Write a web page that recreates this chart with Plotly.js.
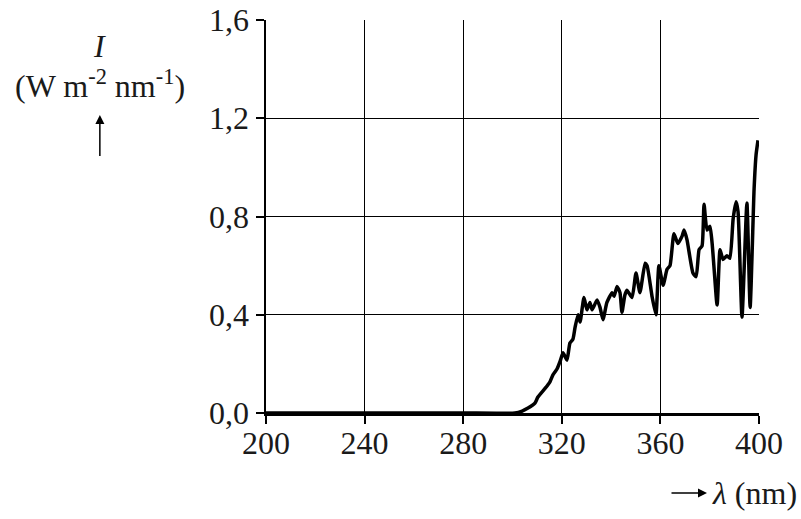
<!DOCTYPE html>
<html>
<head>
<meta charset="utf-8">
<script src="https://cdn.plot.ly/plotly-3.0.1.min.js"></script>
<style>html,body{margin:0;padding:0;background:#fff;}#chart{width:801px;height:519px;}</style>
</head>
<body>
<div id="chart"></div>
<script>
// Wavelength (nm) and spectral irradiance I (W m^-2 nm^-1)
const wavelength = [200, 240, 280, 301.0, 303.9, 306.3, 309.1, 310.3, 313.2, 315.2, 316.4, 318.1, 319.3, 320.5, 322.1, 323.3, 324.5, 325.4, 326.6, 327.4, 329.0, 330.2, 331.4, 332.3, 334.3, 335.5, 336.7, 338.3, 340.4, 341.2, 342.4, 343.6, 344.4, 345.6, 346.4, 348.5, 350.1, 351.7, 353.8, 354.6, 356.6, 358.2, 359.4, 361.1, 362.7, 363.9, 365.5, 367.1, 368.8, 369.6, 370.8, 373.2, 374.5, 375.7, 376.9, 377.7, 378.9, 380.1, 383.0, 384.2, 385.4, 387.0, 388.2, 389.5, 390.7, 391.5, 393.1, 395.1, 396.4, 398.0, 398.8, 399.6];
const irradiance = [0, 0, 0, 0, 0.008, 0.02, 0.04, 0.065, 0.10, 0.127, 0.155, 0.18, 0.21, 0.245, 0.215, 0.285, 0.30, 0.35, 0.40, 0.37, 0.47, 0.42, 0.45, 0.42, 0.46, 0.43, 0.38, 0.45, 0.49, 0.475, 0.515, 0.49, 0.41, 0.48, 0.50, 0.47, 0.57, 0.49, 0.61, 0.60, 0.475, 0.40, 0.60, 0.52, 0.585, 0.60, 0.73, 0.69, 0.72, 0.745, 0.705, 0.57, 0.555, 0.665, 0.68, 0.85, 0.745, 0.76, 0.44, 0.665, 0.625, 0.64, 0.63, 0.79, 0.86, 0.82, 0.39, 0.855, 0.43, 0.91, 1.05, 1.11];
const xTicks = [200, 240, 280, 320, 360, 400];
const yTicks = [0, 0.4, 0.8, 1.2, 1.6];

const FONT = 'Liberation Serif, Times New Roman, serif';
const FS = 32;
const TXT = '#1a1a1a';

const trace = {
  x: wavelength, y: irradiance, type: 'scatter', mode: 'lines',
  line: {color: '#000', width: 3.5, shape: 'spline', smoothing: 0.5},
  hoverinfo: 'skip'
};

const layout = {
  width: 801, height: 519,
  margin: {l: 266, r: 42, t: 20, b: 106},
  paper_bgcolor: '#fff', plot_bgcolor: '#fff',
  showlegend: false,
  separators: ',.',
  font: {family: FONT, color: TXT, size: FS},
  xaxis: {
    range: [200, 400], tickvals: xTicks, ticktext: xTicks.map(String),
    showgrid: true, gridcolor: '#000', gridwidth: 1,
    showline: true, linecolor: '#000', linewidth: 2.5,
    ticks: 'outside', ticklen: 8, tickwidth: 2, tickcolor: '#000',
    ticklabelstandoff: -8,
    zeroline: false, fixedrange: true,
    tickfont: {family: FONT, size: FS, color: TXT}
  },
  yaxis: {
    range: [0, 1.6], tickvals: yTicks, tickformat: '.1f',
    showgrid: true, gridcolor: '#000', gridwidth: 1,
    showline: true, linecolor: '#000', linewidth: 2.5,
    ticks: 'outside', ticklen: 8, tickwidth: 2, tickcolor: '#000',
    zeroline: false, fixedrange: true,
    tickfont: {family: FONT, size: FS, color: TXT}
  },
  annotations: [
    {xref: 'paper', yref: 'paper', x: -0.337, y: 0.935, xanchor: 'center', yanchor: 'middle',
     text: '<i>I</i>', showarrow: false, font: {family: FONT, size: FS, color: TXT}},
    {xref: 'paper', yref: 'paper', x: -0.337, y: 0.838, xanchor: 'center', yanchor: 'middle',
     text: '(W m<sup>-2</sup> nm<sup>-1</sup>)', showarrow: false, font: {family: FONT, size: FS, color: TXT}},
    {xref: 'paper', yref: 'paper', x: -0.337, y: 0.758, ax: 0, ay: 43, text: ' ', font: {size: 1},
     showarrow: true, arrowhead: 2, arrowsize: 1.2, arrowwidth: 1.5, arrowcolor: '#000', standoff: 0},
    {xref: 'paper', yref: 'paper', x: 0.8945, y: -0.2036, ax: -37, ay: 0, text: ' ', font: {size: 1},
     showarrow: true, arrowhead: 2, arrowsize: 1.2, arrowwidth: 1.5, arrowcolor: '#000', standoff: 0},
    {xref: 'paper', yref: 'paper', x: 1.082, y: -0.2036, xanchor: 'right', yanchor: 'middle',
     text: '<i>λ</i> (nm)', showarrow: false, font: {family: FONT, size: FS, color: TXT}}
  ]
};

Plotly.newPlot('chart', [trace], layout, {staticPlot: true, displayModeBar: false});
</script>
</body>
</html>
